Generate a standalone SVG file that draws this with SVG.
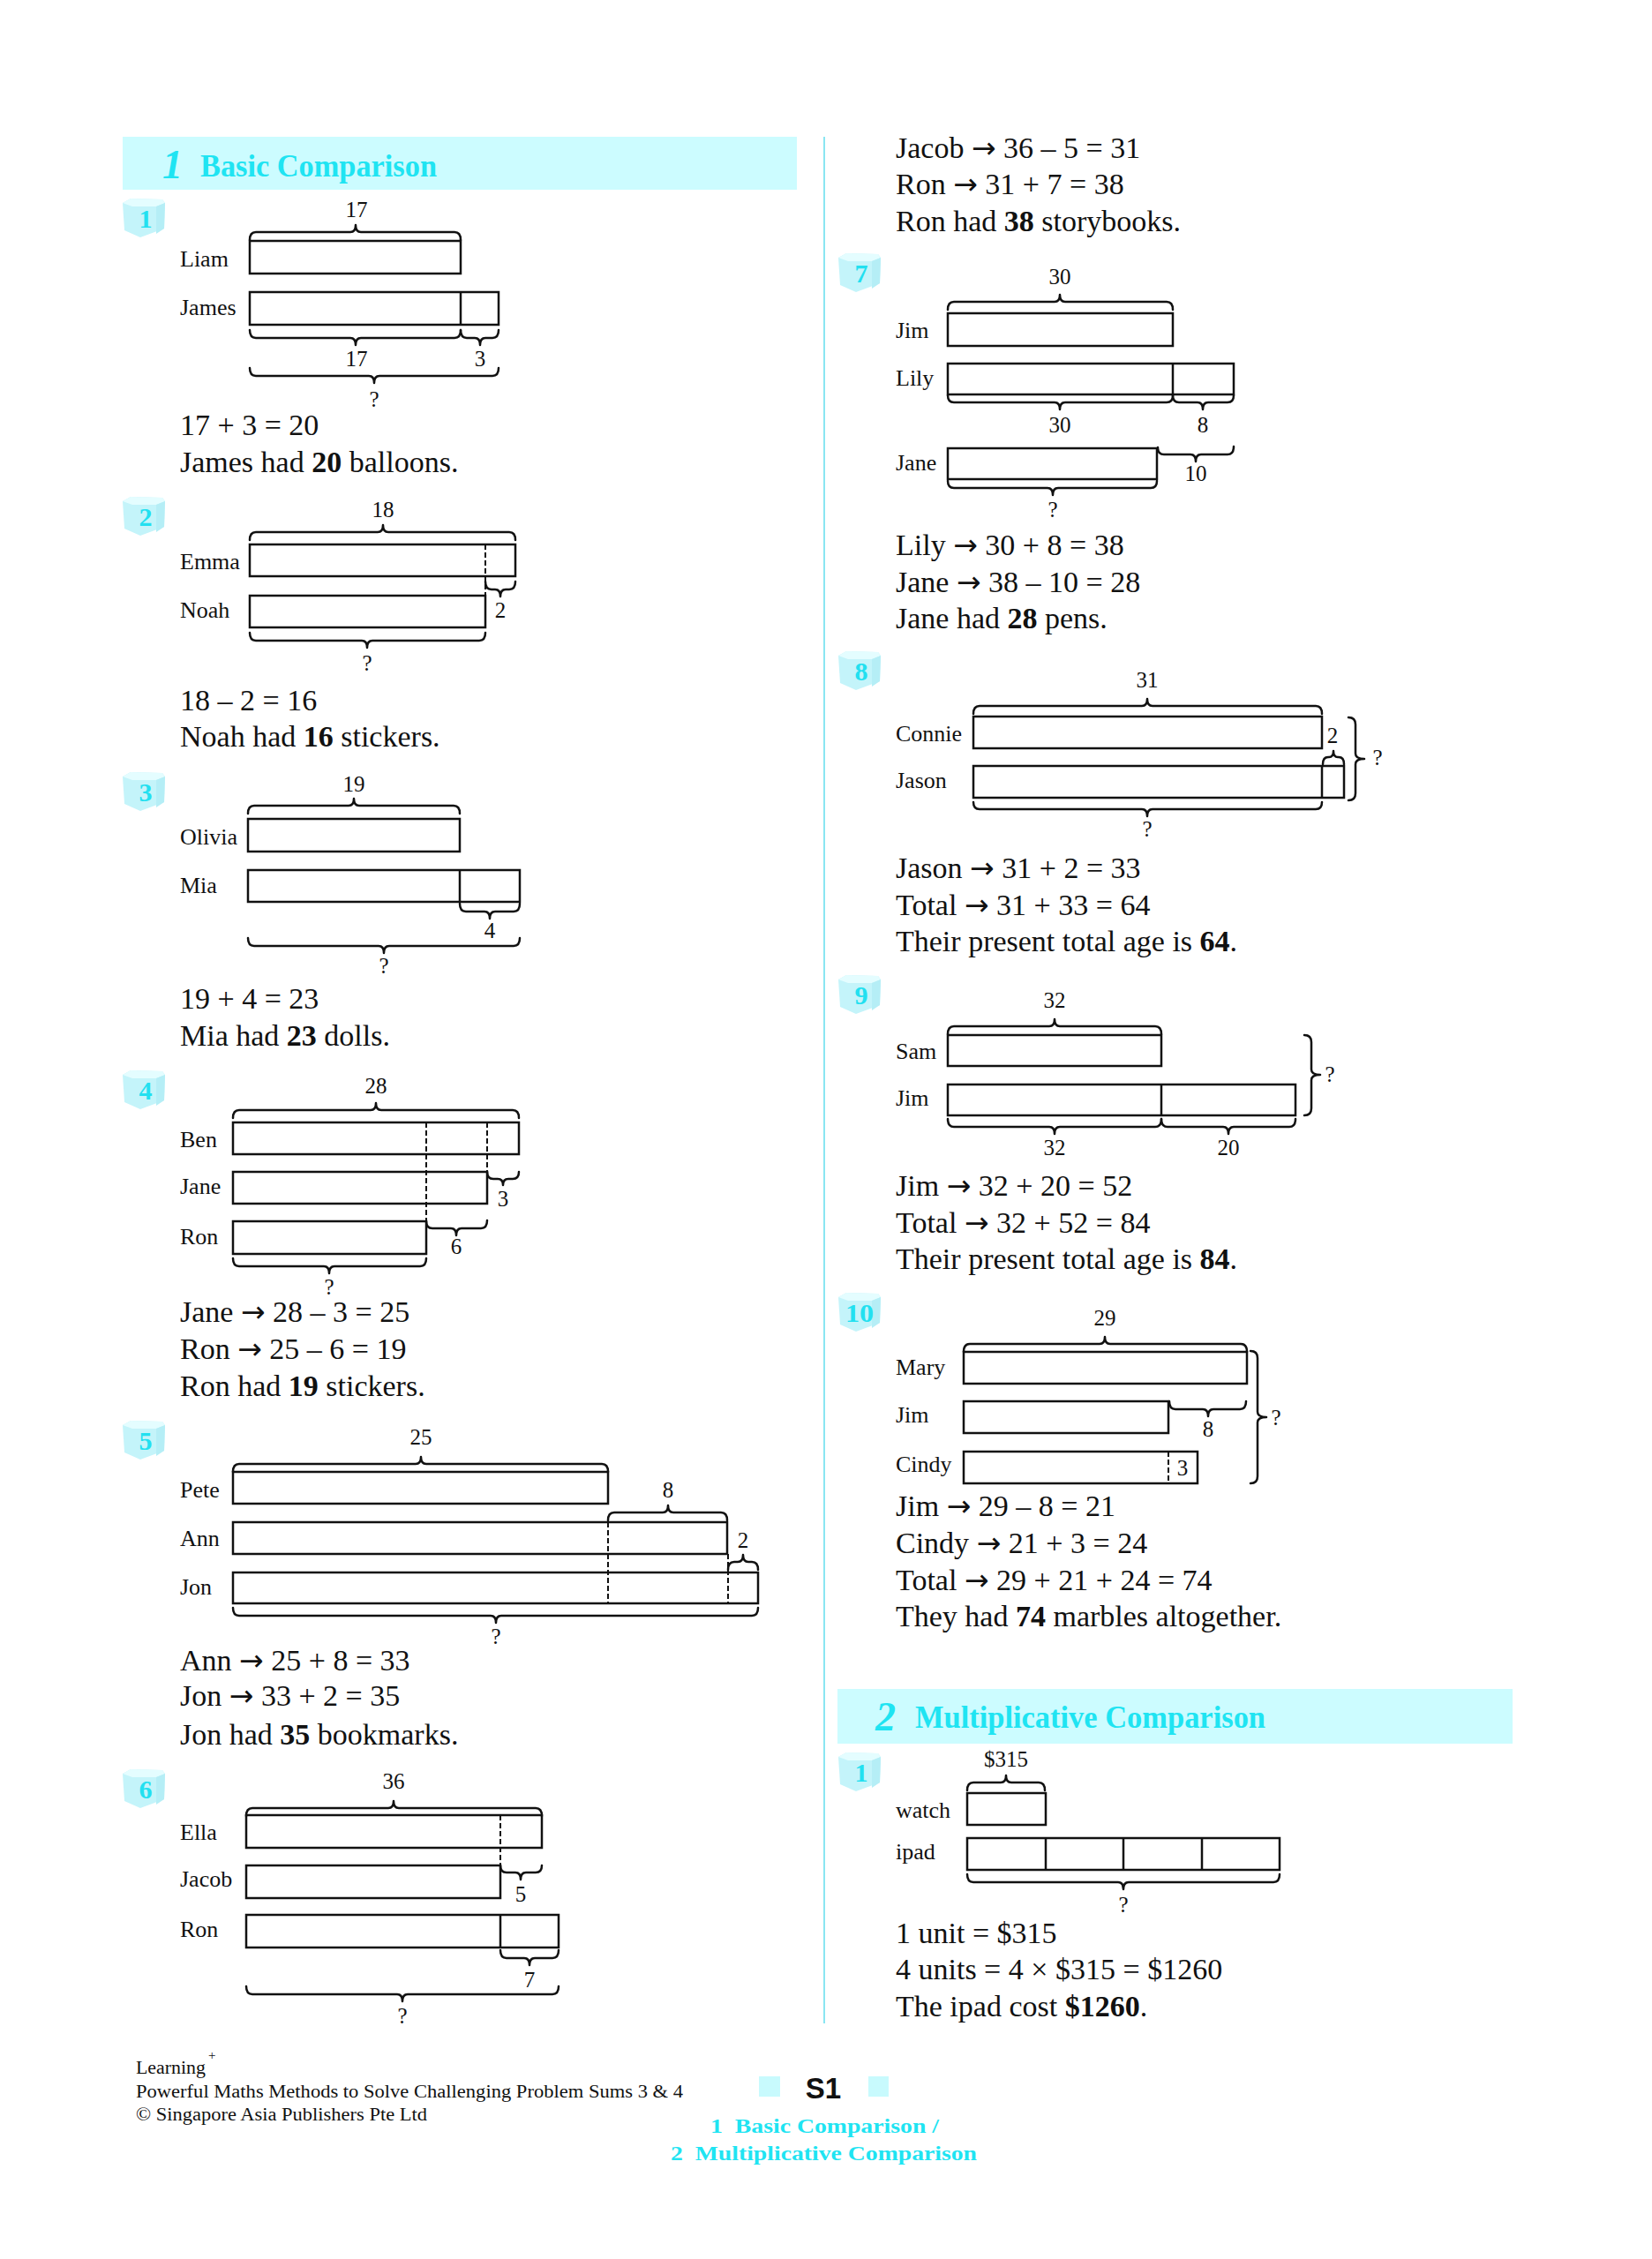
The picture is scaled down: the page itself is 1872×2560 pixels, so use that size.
<svg xmlns="http://www.w3.org/2000/svg" xmlns:xlink="http://www.w3.org/1999/xlink" width="1872" height="2560" viewBox="0 0 1872 2560">
<defs>
<style>
text{font-family:"Liberation Serif","Times New Roman",serif;fill:#111}
.t{font-size:34px}
.n{font-size:26px}
.v{font-size:25px;text-anchor:middle}
.ar{font-family:"DejaVu Sans",sans-serif;font-size:33px}
.bar{fill:#fff;stroke:#111;stroke-width:2.5}
.ln{stroke:#111;stroke-width:2.5}
.br{fill:none;stroke:#111;stroke-width:2.5;stroke-linejoin:round;stroke-linecap:round}
.dash{stroke:#111;stroke-width:2;stroke-dasharray:6 3}
.hd{font-weight:bold;fill:#1fe4f2}
.bn{font-weight:bold;fill:#22e0f0;font-size:30px;text-anchor:middle}
.band{fill:#ccfcff}
.foot{font-size:20px}
</style>
<g id="cube">
<path d="M0,5 L9,0 L45,1 L48,5 L47,34 L20,44 L2,36 Z" fill="#c4f4fa"/>
<path d="M0,5 L9,0 L45,1 L48,5 L38,9 L11,9 Z" fill="#e4fdff"/>
<path d="M38,9 L48,5 L47,34 L38,40 Z" fill="#b5eef6"/>
</g>
</defs>
<rect x="0" y="0" width="1872" height="2560" fill="#fff"/>

<line x1="934" y1="155" x2="934" y2="2293" stroke="#8ae6f2" stroke-width="2"/>

<g id="header1">
<rect class="band" x="139" y="155" width="764" height="60"/>
<text class="hd" x="184" y="202" font-size="46" font-style="italic">1</text>
<text class="hd" x="227" y="200" font-size="36" textLength="268" lengthAdjust="spacingAndGlyphs">Basic Comparison</text>
</g>

<g id="p1">
<use xlink:href="#cube" x="139" y="225"/><text class="bn" x="165" y="258">1</text>
<text class="n" x="204" y="302">Liam</text>
<text class="n" x="204" y="357">James</text>
<rect class="bar" x="283" y="273" width="239" height="37"/>
<rect class="bar" x="283" y="331" width="282" height="37"/>
<line class="ln" x1="522" y1="331" x2="522" y2="368"/>
<path class="br" d="M283,272 Q283,263 290,263 H397 Q403,263 403,255 Q403,263 409,263 H515 Q522,263 522,272"/>
<path class="br" d="M283,374 Q283,383 290,383 H397 Q403,383 403,391 Q403,383 409,383 H515 Q522,383 522,374"/>
<path class="br" d="M522,374 Q522,383 529,383 H538 Q544,383 544,391 Q544,383 550,383 H558 Q565,383 565,374"/>
<path class="br" d="M283,417 Q283,426 290,426 H418 Q424,426 424,434 Q424,426 430,426 H558 Q565,426 565,417"/>
<text class="v" x="404" y="246">17</text>
<text class="v" x="404" y="415">17</text>
<text class="v" x="544" y="415">3</text>
<text class="v" x="424" y="461">?</text>
<text class="t" x="204" y="493">17 + 3 = 20</text>
<text class="t" x="204" y="535">James had <tspan font-weight="bold">20</tspan> balloons.</text>
</g>

<g id="p2">
<use xlink:href="#cube" x="139" y="563"/><text class="bn" x="165" y="596">2</text>
<text class="n" x="204" y="645">Emma</text>
<text class="n" x="204" y="700">Noah</text>
<rect class="bar" x="283" y="617" width="301" height="36"/>
<line class="dash" x1="550" y1="617" x2="550" y2="675"/>
<rect class="bar" x="283" y="675" width="267" height="36"/>
<path class="br" d="M283,612 Q283,603 290,603 H428 Q434,603 434,595 Q434,603 440,603 H577 Q584,603 584,612"/>
<path class="br" d="M550,659 Q550,668 557,668 H561 Q567,668 567,676 Q567,668 573,668 H577 Q584,668 584,659"/>
<path class="br" d="M283,717 Q283,726 290,726 H410 Q416,726 416,734 Q416,726 422,726 H543 Q550,726 550,717"/>
<text class="v" x="434" y="586">18</text>
<text class="v" x="567" y="700">2</text>
<text class="v" x="416" y="760">?</text>
<text class="t" x="204" y="805">18 – 2 = 16</text>
<text class="t" x="204" y="846">Noah had <tspan font-weight="bold">16</tspan> stickers.</text>
</g>

<g id="p3">
<use xlink:href="#cube" x="139" y="875"/><text class="bn" x="165" y="908">3</text>
<text class="n" x="204" y="957">Olivia</text>
<text class="n" x="204" y="1012">Mia</text>
<rect class="bar" x="281" y="928" width="240" height="37"/>
<rect class="bar" x="281" y="986" width="308" height="36"/>
<line class="ln" x1="521" y1="986" x2="521" y2="1022"/>
<path class="br" d="M281,922 Q281,913 288,913 H395 Q401,913 401,905 Q401,913 407,913 H514 Q521,913 521,922"/>
<path class="br" d="M521,1024 Q521,1033 528,1033 H549 Q555,1033 555,1041 Q555,1033 561,1033 H582 Q589,1033 589,1024"/>
<path class="br" d="M281,1063 Q281,1072 288,1072 H429 Q435,1072 435,1080 Q435,1072 441,1072 H582 Q589,1072 589,1063"/>
<text class="v" x="401" y="897">19</text>
<text class="v" x="555" y="1063">4</text>
<text class="v" x="435" y="1103">?</text>
<text class="t" x="204" y="1143">19 + 4 = 23</text>
<text class="t" x="204" y="1185">Mia had <tspan font-weight="bold">23</tspan> dolls.</text>
</g>

<g id="p4">
<use xlink:href="#cube" x="139" y="1213"/><text class="bn" x="165" y="1246">4</text>
<text class="n" x="204" y="1300">Ben</text>
<text class="n" x="204" y="1353">Jane</text>
<text class="n" x="204" y="1410">Ron</text>
<rect class="bar" x="264" y="1272" width="324" height="36"/>
<rect class="bar" x="264" y="1328" width="288" height="36"/>
<rect class="bar" x="264" y="1384" width="219" height="37"/>
<line class="dash" x1="483" y1="1272" x2="483" y2="1384"/>
<line class="dash" x1="552" y1="1272" x2="552" y2="1328"/>
<path class="br" d="M264,1267 Q264,1258 271,1258 H420 Q426,1258 426,1250 Q426,1258 432,1258 H581 Q588,1258 588,1267"/>
<path class="br" d="M552,1328 Q552,1336 559,1336 H564 Q570,1336 570,1343 Q570,1336 576,1336 H581 Q588,1336 588,1328"/>
<path class="br" d="M483,1384 Q483,1392 490,1392 H511 Q517,1392 517,1400 Q517,1392 523,1392 H545 Q552,1392 552,1383"/>
<path class="br" d="M264,1426 Q264,1435 271,1435 H367 Q373,1435 373,1443 Q373,1435 379,1435 H476 Q483,1435 483,1426"/>
<text class="v" x="426" y="1239">28</text>
<text class="v" x="570" y="1367">3</text>
<text class="v" x="517" y="1421">6</text>
<text class="v" x="373" y="1467">?</text>
<text class="t" x="204" y="1498">Jane <tspan class="ar">→</tspan> 28 – 3 = 25</text>
<text class="t" x="204" y="1540">Ron <tspan class="ar">→</tspan> 25 – 6 = 19</text>
<text class="t" x="204" y="1582">Ron had <tspan font-weight="bold">19</tspan> stickers.</text>
</g>

<g id="p5">
<use xlink:href="#cube" x="139" y="1610"/><text class="bn" x="165" y="1643">5</text>
<text class="n" x="204" y="1697">Pete</text>
<text class="n" x="204" y="1752">Ann</text>
<text class="n" x="204" y="1807">Jon</text>
<rect class="bar" x="264" y="1668" width="425" height="36"/>
<rect class="bar" x="264" y="1725" width="560" height="36"/>
<rect class="bar" x="264" y="1782" width="595" height="35"/>
<line class="dash" x1="689" y1="1725" x2="689" y2="1817"/>
<line class="dash" x1="825" y1="1761" x2="825" y2="1817"/>
<path class="br" d="M264,1668 Q264,1659 271,1659 H471 Q477,1659 477,1651 Q477,1659 483,1659 H682 Q689,1659 689,1668"/>
<path class="br" d="M689,1723 Q689,1714 696,1714 H751 Q757,1714 757,1706 Q757,1714 763,1714 H817 Q824,1714 824,1723"/>
<path class="br" d="M825,1779 Q825,1770 832,1770 H836 Q842,1770 842,1762 Q842,1770 848,1770 H852 Q859,1770 859,1779"/>
<path class="br" d="M264,1822 Q264,1831 271,1831 H556 Q562,1831 562,1839 Q562,1831 568,1831 H852 Q859,1831 859,1822"/>
<text class="v" x="477" y="1637">25</text>
<text class="v" x="757" y="1697">8</text>
<text class="v" x="842" y="1754">2</text>
<text class="v" x="562" y="1863">?</text>
<text class="t" x="204" y="1893">Ann <tspan class="ar">→</tspan> 25 + 8 = 33</text>
<text class="t" x="204" y="1933">Jon <tspan class="ar">→</tspan> 33 + 2 = 35</text>
<text class="t" x="204" y="1977">Jon had <tspan font-weight="bold">35</tspan> bookmarks.</text>
</g>

<g id="p6">
<use xlink:href="#cube" x="139" y="2005"/><text class="bn" x="165" y="2038">6</text>
<text class="n" x="204" y="2085">Ella</text>
<text class="n" x="204" y="2138">Jacob</text>
<text class="n" x="204" y="2195">Ron</text>
<rect class="bar" x="279" y="2057" width="335" height="37"/>
<rect class="bar" x="279" y="2114" width="288" height="37"/>
<rect class="bar" x="279" y="2170" width="354" height="37"/>
<line class="dash" x1="567" y1="2057" x2="567" y2="2114"/>
<line class="ln" x1="567" y1="2170" x2="567" y2="2207"/>
<path class="br" d="M279,2058 Q279,2049 286,2049 H440 Q446,2049 446,2041 Q446,2049 452,2049 H607 Q614,2049 614,2058"/>
<path class="br" d="M567,2114 Q567,2122 574,2122 H584 Q590,2122 590,2130 Q590,2122 596,2122 H607 Q614,2122 614,2114"/>
<path class="br" d="M567,2210 Q567,2219 574,2219 H594 Q600,2219 600,2227 Q600,2219 606,2219 H626 Q633,2219 633,2210"/>
<path class="br" d="M279,2251 Q279,2260 286,2260 H450 Q456,2260 456,2268 Q456,2260 462,2260 H626 Q633,2260 633,2251"/>
<text class="v" x="446" y="2027">36</text>
<text class="v" x="590" y="2155">5</text>
<text class="v" x="600" y="2252">7</text>
<text class="v" x="456" y="2293">?</text>
<text class="t" x="1015" y="179">Jacob <tspan class="ar">→</tspan> 36 – 5 = 31</text>
<text class="t" x="1015" y="220">Ron <tspan class="ar">→</tspan> 31 + 7 = 38</text>
<text class="t" x="1015" y="262">Ron had <tspan font-weight="bold">38</tspan> storybooks.</text>
</g>

<g id="p7">
<use xlink:href="#cube" x="950" y="287"/><text class="bn" x="976" y="320">7</text>
<text class="n" x="1015" y="383">Jim</text>
<text class="n" x="1015" y="437">Lily</text>
<text class="n" x="1015" y="533">Jane</text>
<rect class="bar" x="1074" y="355" width="255" height="37"/>
<rect class="bar" x="1074" y="412" width="324" height="35"/>
<line class="ln" x1="1329" y1="412" x2="1329" y2="447"/>
<rect class="bar" x="1074" y="508" width="237" height="35"/>
<path class="br" d="M1074,351 Q1074,342 1081,342 H1195 Q1201,342 1201,334 Q1201,342 1207,342 H1322 Q1329,342 1329,351"/>
<path class="br" d="M1074,448 Q1074,456 1081,456 H1195 Q1201,456 1201,464 Q1201,456 1207,456 H1322 Q1329,456 1329,448"/>
<path class="br" d="M1329,448 Q1329,456 1336,456 H1357 Q1363,456 1363,464 Q1363,456 1369,456 H1391 Q1398,456 1398,448"/>
<path class="br" d="M1312,507 Q1312,515 1319,515 H1349 Q1355,515 1355,523 Q1355,515 1361,515 H1391 Q1398,515 1398,506"/>
<path class="br" d="M1074,545 Q1074,553 1081,553 H1187 Q1193,553 1193,561 Q1193,553 1199,553 H1304 Q1311,553 1311,545"/>
<text class="v" x="1201" y="322">30</text>
<text class="v" x="1201" y="490">30</text>
<text class="v" x="1363" y="490">8</text>
<text class="v" x="1355" y="545">10</text>
<text class="v" x="1193" y="586">?</text>
<text class="t" x="1015" y="629">Lily <tspan class="ar">→</tspan> 30 + 8 = 38</text>
<text class="t" x="1015" y="671">Jane <tspan class="ar">→</tspan> 38 – 10 = 28</text>
<text class="t" x="1015" y="712">Jane had <tspan font-weight="bold">28</tspan> pens.</text>
</g>

<g id="p8">
<use xlink:href="#cube" x="950" y="738"/><text class="bn" x="976" y="771">8</text>
<text class="n" x="1015" y="840">Connie</text>
<text class="n" x="1015" y="893">Jason</text>
<rect class="bar" x="1103" y="812" width="395" height="36"/>
<rect class="bar" x="1103" y="868" width="420" height="36"/>
<line class="ln" x1="1498" y1="868" x2="1498" y2="904"/>
<path class="br" d="M1103,809 Q1103,800 1110,800 H1294 Q1300,800 1300,792 Q1300,800 1306,800 H1491 Q1498,800 1498,809"/>
<path class="br" d="M1499,866 Q1499,858 1505,858 H1506 Q1511,858 1511,851 Q1511,858 1516,858 H1517 Q1523,858 1523,866"/>
<path class="br" d="M1528,813 Q1536,813 1536,821 V854 Q1536,860 1546,860 Q1536,860 1536,866 V899 Q1536,907 1528,907"/>
<path class="br" d="M1103,909 Q1103,917 1110,917 H1294 Q1300,917 1300,925 Q1300,917 1306,917 H1491 Q1498,917 1498,909"/>
<text class="v" x="1300" y="779">31</text>
<text class="v" x="1510" y="842">2</text>
<text class="v" x="1561" y="867">?</text>
<text class="v" x="1300" y="948">?</text>
<text class="t" x="1015" y="995">Jason <tspan class="ar">→</tspan> 31 + 2 = 33</text>
<text class="t" x="1015" y="1037">Total <tspan class="ar">→</tspan> 31 + 33 = 64</text>
<text class="t" x="1015" y="1078">Their present total age is <tspan font-weight="bold">64</tspan>.</text>
</g>

<g id="p9">
<use xlink:href="#cube" x="950" y="1105"/><text class="bn" x="976" y="1138">9</text>
<text class="n" x="1015" y="1200">Sam</text>
<text class="n" x="1015" y="1253">Jim</text>
<rect class="bar" x="1074" y="1173" width="242" height="35"/>
<rect class="bar" x="1074" y="1229" width="394" height="35"/>
<line class="ln" x1="1316" y1="1229" x2="1316" y2="1264"/>
<path class="br" d="M1074,1172 Q1074,1163 1081,1163 H1189 Q1195,1163 1195,1155 Q1195,1163 1201,1163 H1309 Q1316,1163 1316,1172"/>
<path class="br" d="M1478,1173 Q1486,1173 1486,1181 V1212 Q1486,1218 1496,1218 Q1486,1218 1486,1224 V1256 Q1486,1264 1478,1264"/>
<path class="br" d="M1074,1268 Q1074,1277 1081,1277 H1189 Q1195,1277 1195,1285 Q1195,1277 1201,1277 H1309 Q1316,1277 1316,1268"/>
<path class="br" d="M1316,1268 Q1316,1277 1323,1277 H1386 Q1392,1277 1392,1285 Q1392,1277 1398,1277 H1461 Q1468,1277 1468,1268"/>
<text class="v" x="1195" y="1142">32</text>
<text class="v" x="1507" y="1226">?</text>
<text class="v" x="1195" y="1309">32</text>
<text class="v" x="1392" y="1309">20</text>
<text class="t" x="1015" y="1355">Jim <tspan class="ar">→</tspan> 32 + 20 = 52</text>
<text class="t" x="1015" y="1397">Total <tspan class="ar">→</tspan> 32 + 52 = 84</text>
<text class="t" x="1015" y="1438">Their present total age is <tspan font-weight="bold">84</tspan>.</text>
</g>

<g id="p10">
<use xlink:href="#cube" x="950" y="1465"/><text class="bn" x="974" y="1498" textLength="32" lengthAdjust="spacingAndGlyphs">10</text>
<text class="n" x="1015" y="1558">Mary</text>
<text class="n" x="1015" y="1612">Jim</text>
<text class="n" x="1015" y="1668">Cindy</text>
<rect class="bar" x="1092" y="1532" width="321" height="36"/>
<rect class="bar" x="1092" y="1588" width="232" height="36"/>
<rect class="bar" x="1092" y="1645" width="265" height="36"/>
<line class="dash" x1="1324" y1="1645" x2="1324" y2="1681"/>
<path class="br" d="M1092,1532 Q1092,1523 1099,1523 H1246 Q1252,1523 1252,1515 Q1252,1523 1258,1523 H1406 Q1413,1523 1413,1532"/>
<path class="br" d="M1325,1588 Q1325,1597 1332,1597 H1363 Q1369,1597 1369,1605 Q1369,1597 1375,1597 H1405 Q1412,1597 1412,1588"/>
<path class="br" d="M1417,1531 Q1425,1531 1425,1539 V1600 Q1425,1606 1435,1606 Q1425,1606 1425,1612 V1673 Q1425,1681 1417,1681"/>
<text class="v" x="1252" y="1502">29</text>
<text class="v" x="1369" y="1628">8</text>
<text class="v" x="1340" y="1672">3</text>
<text class="v" x="1446" y="1615">?</text>
<text class="t" x="1015" y="1718">Jim <tspan class="ar">→</tspan> 29 – 8 = 21</text>
<text class="t" x="1015" y="1760">Cindy <tspan class="ar">→</tspan> 21 + 3 = 24</text>
<text class="t" x="1015" y="1802">Total <tspan class="ar">→</tspan> 29 + 21 + 24 = 74</text>
<text class="t" x="1015" y="1843">They had <tspan font-weight="bold">74</tspan> marbles altogether.</text>
</g>

<g id="header2">
<rect class="band" x="949" y="1914" width="765" height="62"/>
<text class="hd" x="992" y="1961" font-size="46" font-style="italic">2</text>
<text class="hd" x="1037" y="1958" font-size="36" textLength="397" lengthAdjust="spacingAndGlyphs">Multiplicative Comparison</text>
</g>

<g id="m1">
<use xlink:href="#cube" x="950" y="1986"/><text class="bn" x="976" y="2019">1</text>
<text class="n" x="1015" y="2060">watch</text>
<text class="n" x="1015" y="2107">ipad</text>
<rect class="bar" x="1096" y="2032" width="89" height="36"/>
<rect class="bar" x="1096" y="2083" width="354" height="36"/>
<line class="ln" x1="1185" y1="2083" x2="1185" y2="2119"/>
<line class="ln" x1="1273" y1="2083" x2="1273" y2="2119"/>
<line class="ln" x1="1362" y1="2083" x2="1362" y2="2119"/>
<path class="br" d="M1096,2029 Q1096,2020 1103,2020 H1134 Q1140,2020 1140,2012 Q1140,2020 1146,2020 H1177 Q1184,2020 1184,2029"/>
<path class="br" d="M1096,2124 Q1096,2133 1103,2133 H1267 Q1273,2133 1273,2141 Q1273,2133 1279,2133 H1443 Q1450,2133 1450,2124"/>
<text class="v" x="1140" y="2002">$315</text>
<text class="v" x="1273" y="2167">?</text>
<text class="t" x="1015" y="2202">1 unit = $315</text>
<text class="t" x="1015" y="2243">4 units = 4 × $315 = $1260</text>
<text class="t" x="1015" y="2285">The ipad cost <tspan font-weight="bold">$1260</tspan>.</text>
</g>

<g id="footer">
<text class="foot" x="154" y="2350" textLength="79" lengthAdjust="spacingAndGlyphs">Learning</text>
<text x="236" y="2334" font-size="15">+</text>
<text class="foot" x="154" y="2377" textLength="620" lengthAdjust="spacingAndGlyphs">Powerful Maths Methods to Solve Challenging Problem Sums 3 &amp; 4</text>
<text class="foot" x="154" y="2403" textLength="330" lengthAdjust="spacingAndGlyphs">© Singapore Asia Publishers Pte Ltd</text>
<rect x="860" y="2353" width="24" height="23" fill="#c8fafd"/>
<rect x="984" y="2353" width="23" height="23" fill="#c8fafd"/>
<text x="933" y="2378" font-weight="bold" font-size="33" text-anchor="middle" style="font-family:'Liberation Sans',Arial,sans-serif">S1</text>
<text class="hd" x="805" y="2417" font-size="24" textLength="259" lengthAdjust="spacingAndGlyphs" xml:space="preserve">1  Basic Comparison /</text>
<text class="hd" x="760" y="2448" font-size="24" textLength="347" lengthAdjust="spacingAndGlyphs" xml:space="preserve">2  Multiplicative Comparison</text>
</g>
</svg>
